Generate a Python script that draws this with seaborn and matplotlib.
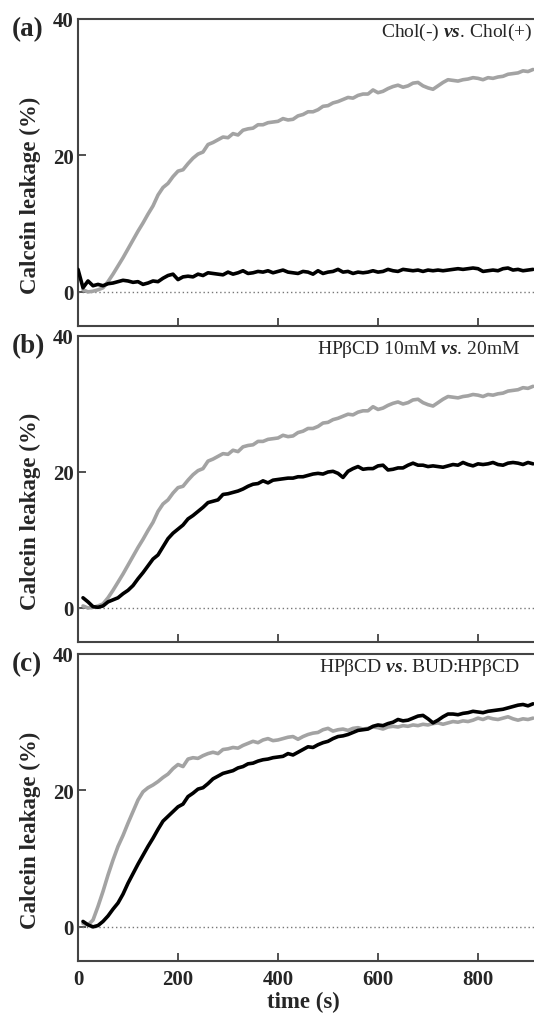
import numpy as np
import matplotlib
matplotlib.use("Agg")
import matplotlib.pyplot as plt
import seaborn as sns

# time axis (s), 10 s steps
time_s = list(range(0, 920, 10))

nan = np.nan

# (a) Chol(-) gray, Chol(+) black
chol_minus = [nan, 0.3, 0.0, 0.1, 0.3, 0.6, 1.5, 2.6, 3.8, 5.0, 6.3, 7.6, 8.9, 10.1, 11.4, 12.6,
              14.2, 15.3, 15.9, 16.9, 17.7, 17.9, 18.8, 19.6, 20.2, 20.5, 21.6, 21.9, 22.3, 22.7,
              22.6, 23.2, 23.0, 23.7, 23.9, 24.0, 24.5, 24.5, 24.8, 24.9, 25.0, 25.4, 25.2, 25.3,
              25.8, 26.0, 26.4, 26.4, 26.7, 27.2, 27.3, 27.7, 27.9, 28.2, 28.5, 28.4, 28.8, 29.0,
              29.0, 29.6, 29.2, 29.4, 29.8, 30.1, 30.3, 30.0, 30.2, 30.6, 30.7, 30.2, 29.9, 29.7,
              30.2, 30.7, 31.1, 31.0, 30.9, 31.1, 31.2, 31.4, 31.3, 31.1, 31.4, 31.3, 31.5, 31.6,
              31.9, 32.0, 32.1, 32.4, 32.3, 32.6]
chol_plus = [3.3, 0.6, 1.6, 0.9, 1.1, 0.9, 1.2, 1.3, 1.5, 1.7, 1.6, 1.4, 1.5, 1.1, 1.3, 1.6,
             1.5, 2.0, 2.4, 2.6, 1.8, 2.2, 2.3, 2.2, 2.6, 2.4, 2.8, 2.7, 2.6, 2.5, 2.9, 2.6, 2.8,
             3.1, 2.7, 2.8, 3.0, 2.9, 3.1, 2.8, 3.0, 3.2, 2.9, 2.8, 2.7, 3.0, 2.9, 2.6, 3.1, 2.7,
             2.9, 3.0, 3.3, 2.9, 3.0, 2.7, 2.9, 2.8, 2.9, 3.1, 2.9, 3.0, 3.3, 3.1, 3.0, 3.3, 3.2,
             3.1, 3.2, 3.0, 3.2, 3.1, 3.2, 3.1, 3.2, 3.3, 3.4, 3.3, 3.4, 3.5, 3.4, 3.0, 3.1, 3.2,
             3.1, 3.4, 3.5, 3.2, 3.3, 3.1, 3.2, 3.3]

# (b) HPbCD 20mM gray, 10mM black
hpbcd_20mm = chol_minus
hpbcd_10mm = [nan, 1.5, 0.9, 0.2, 0.1, 0.3, 0.9, 1.2, 1.5, 2.1, 2.6, 3.3, 4.3, 5.2, 6.2, 7.2,
              7.8, 9.0, 10.2, 11.0, 11.6, 12.2, 13.1, 13.6, 14.2, 14.8, 15.5, 15.7, 15.9, 16.7,
              16.8, 17.0, 17.2, 17.5, 17.9, 18.2, 18.3, 18.7, 18.4, 18.8, 18.9, 19.0, 19.1, 19.1,
              19.3, 19.3, 19.5, 19.7, 19.8, 19.7, 20.0, 20.1, 19.8, 19.2, 20.1, 20.5, 20.8, 20.4,
              20.5, 20.5, 20.9, 21.0, 20.3, 20.4, 20.6, 20.6, 21.0, 21.3, 21.0, 21.0, 20.8, 20.9,
              20.8, 20.7, 20.9, 21.1, 21.0, 21.4, 21.1, 20.9, 21.2, 21.1, 21.2, 21.4, 21.1, 21.0,
              21.3, 21.4, 21.3, 21.1, 21.4, 21.2]

# (c) HPbCD gray, BUD:HPbCD black
hpbcd = [nan, 0.5, 0.3, 1.0, 3.0, 5.2, 7.6, 9.8, 11.8, 13.4, 15.2, 16.9, 18.6, 19.8, 20.4, 20.8,
         21.3, 21.9, 22.4, 23.2, 23.8, 23.5, 24.6, 24.8, 24.7, 25.1, 25.4, 25.6, 25.4, 26.0,
         26.1, 26.3, 26.2, 26.6, 26.9, 27.2, 27.0, 27.4, 27.6, 27.3, 27.4, 27.6, 27.8, 27.9,
         27.5, 27.9, 28.2, 28.4, 28.5, 28.9, 29.1, 28.7, 28.9, 29.0, 28.8, 29.1, 29.2, 29.0,
         29.1, 29.3, 29.2, 29.0, 29.3, 29.4, 29.3, 29.5, 29.4, 29.6, 29.5, 29.7, 29.6, 29.8,
         29.9, 29.7, 29.9, 30.1, 30.0, 30.2, 30.1, 30.3, 30.6, 30.4, 30.7, 30.5, 30.4, 30.6,
         30.8, 30.5, 30.3, 30.5, 30.4, 30.6]
bud_hpbcd = [nan, 0.8, 0.3, 0.0, 0.2, 0.8, 1.6, 2.6, 3.5, 4.8, 6.4, 7.8, 9.2, 10.5, 11.8, 13.0,
             14.3, 15.5, 16.2, 16.9, 17.6, 18.0, 19.1, 19.6, 20.2, 20.4, 21.0, 21.7, 22.1, 22.5,
             22.7, 22.9, 23.3, 23.5, 23.9, 24.0, 24.3, 24.5, 24.6, 24.8, 24.9, 25.0, 25.4, 25.2,
             25.6, 26.0, 26.4, 26.3, 26.7, 27.0, 27.2, 27.6, 27.9, 28.0, 28.2, 28.5, 28.8, 28.9,
             29.0, 29.4, 29.6, 29.5, 29.8, 30.0, 30.4, 30.2, 30.3, 30.6, 30.9, 31.0, 30.5, 29.9,
             30.3, 30.8, 31.2, 31.2, 31.1, 31.3, 31.4, 31.6, 31.5, 31.4, 31.6, 31.7, 31.8, 31.9,
             32.1, 32.3, 32.5, 32.6, 32.4, 32.7]

panel_letters = ["(a)", "(b)", "(c)"]
panel_notes = [r"Chol(-) $\mathit{vs}$. Chol(+)",
               r"HPβCD 10mM $\mathit{vs}$. 20mM",
               r"HPβCD $\mathit{vs}$. BUD:HPβCD"]
gray_series = [chol_minus, hpbcd_20mm, hpbcd]
black_series = [chol_plus, hpbcd_10mm, bud_hpbcd]

sns.set_theme(style="ticks")
plt.rcParams["font.family"] = ["Liberation Serif", "DejaVu Serif"]
plt.rcParams["font.weight"] = "bold"
plt.rcParams["mathtext.fontset"] = "custom"
plt.rcParams["mathtext.rm"] = "Liberation Serif"
plt.rcParams["mathtext.it"] = "Liberation Serif:italic"

fig = plt.figure(figsize=(5.34, 10.2), dpi=100)

# axes boxes in pixels: (top, bottom); x from 78 px, 0.5 px per second, runs past the right edge
boxes = [(20, 327), (337, 643), (655, 962)]
note_x = [908, 884, 884]

for i, (top, bottom) in enumerate(boxes):
    ax = fig.add_axes([78 / 534, (1020 - bottom) / 1020, 500 / 534, (bottom - top) / 1020])
    ax.axhline(0, color="#777777", lw=1.0, ls=(0, (1, 2)), zorder=1)
    sns.lineplot(x=time_s, y=gray_series[i], ax=ax, color="#a3a3a3", lw=2.6, zorder=2)
    sns.lineplot(x=time_s, y=black_series[i], ax=ax, color="black", lw=2.6, zorder=3)
    ax.set_xlim(0, 1000)
    ax.set_ylim(-5, 40)
    ax.set_yticks([0, 20, 40])
    ax.set_xticks([0, 200, 400, 600, 800])
    ax.tick_params(direction="in", length=6, width=1.2, labelsize=15, pad=3, color="#333333")
    for s in ax.spines.values():
        s.set_linewidth(1.5)
        s.set_color("#444444")
    ax.set_ylabel("Calcein leakage (%)", fontsize=16.5, fontweight="bold")
    ax.yaxis.set_label_coords(-0.074, 0.43)
    ax.text(note_x[i], 38.2, panel_notes[i], ha="right", va="center",
            fontsize=14, fontweight="normal")
    fig.text(12 / 534, 1 - (top + 10) / 1020, panel_letters[i], ha="left", va="center",
             fontsize=19.5, fontweight="bold")
    if i < 2:
        ax.tick_params(labelbottom=False)
        ax.set_xlabel("")
    else:
        ax.tick_params(axis="x", pad=6)
        ax.set_xlabel("time (s)", fontsize=16.5, fontweight="bold")
        ax.xaxis.set_label_coords(0.45, -0.098)

fig.savefig("out.png", dpi=100)
